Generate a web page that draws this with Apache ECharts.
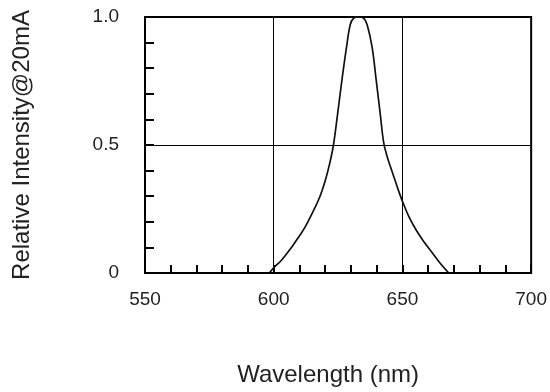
<!DOCTYPE html>
<html>
<head>
<meta charset="utf-8">
<script src="https://cdn.jsdelivr.net/npm/echarts@6/dist/echarts.min.js"></script>
<style>
  html, body { margin: 0; padding: 0; background: #fff; }
  #chart { width: 550px; height: 392px; }
</style>
</head>
<body>
<div id="chart"></div>
<script>
// wavelength (nm) and relative intensity
var wavelength = [598.3, 600, 603, 606.9, 610, 612.5, 615.5, 618, 620, 621.8, 623.2, 624.8, 626.5, 628.3, 629.7, 631, 633, 635, 636.3, 638.2, 639.8, 641.4, 642.7, 644.2, 646.2, 648.2, 650, 652.5, 655.5, 658.5, 661.5, 664.5, 668];
var intensity  = [0, 0.02, 0.05, 0.1, 0.145, 0.185, 0.245, 0.3, 0.36, 0.43, 0.5, 0.62, 0.754, 0.883, 0.97, 0.995, 1.0, 0.995, 0.97, 0.883, 0.754, 0.62, 0.51, 0.45, 0.39, 0.33, 0.28, 0.22, 0.165, 0.12, 0.08, 0.04, 0];

var xMin = 550, xMax = 700, xMajor = 50, xMinor = 10;
var yMin = 0, yMax = 1, yMajor = 0.5, yMinor = 0.1;

var points = [];
for (var i = 0; i < wavelength.length; i++) {
  points.push([wavelength[i], intensity[i]]);
}

var myChart = echarts.init(document.getElementById('chart'));
var txt = '#222';
var font = 'Liberation Sans, Arial, sans-serif';

var option = {
  animation: false,
  backgroundColor: '#fff',
  grid: {
    left: 145, right: 14, top: 17, bottom: 116,
    show: true, borderColor: '#000', borderWidth: 2
  },
  xAxis: [
    {
      type: 'value', min: xMin, max: xMax, interval: xMajor, position: 'bottom',
      axisLine: { show: true, lineStyle: { color: '#000', width: 2 } },
      axisTick: { show: false },
      axisLabel: { fontSize: 19, color: txt, fontFamily: font, margin: 17 },
      splitLine: { show: true, lineStyle: { color: '#000', width: 1 } },
      name: 'Wavelength (nm)',
      nameLocation: 'middle',
      nameGap: 90,
      nameTextStyle: { fontSize: 24, color: txt, fontFamily: font, padding: [0, 20, 0, 0] }
    },
    {
      type: 'value', min: xMin, max: xMax, interval: xMinor, position: 'bottom',
      axisLine: { show: false },
      axisTick: { show: true, inside: true, length: 8, lineStyle: { color: '#000', width: 2 } },
      axisLabel: { show: false },
      splitLine: { show: false }
    }
  ],
  yAxis: [
    {
      type: 'value', min: yMin, max: yMax, interval: yMajor, position: 'left',
      axisLine: { show: true, lineStyle: { color: '#000', width: 2 } },
      axisTick: { show: false },
      axisLabel: {
        fontSize: 19, color: txt, fontFamily: font, margin: 26,
        formatter: function (v) { return v === 0 ? '0' : v.toFixed(1); }
      },
      splitLine: { show: true, lineStyle: { color: '#000', width: 1 } },
      name: 'Relative Intensity@20mA',
      nameLocation: 'middle',
      nameGap: 111,
      nameTextStyle: { fontSize: 24, color: txt, fontFamily: font }
    },
    {
      type: 'value', min: yMin, max: yMax, interval: yMinor, position: 'left',
      axisLine: { show: false },
      axisTick: { show: true, inside: true, length: 9, lineStyle: { color: '#000', width: 2 } },
      axisLabel: { show: false },
      splitLine: { show: false }
    }
  ],
  series: [
    {
      type: 'line',
      xAxisIndex: 0,
      yAxisIndex: 0,
      data: points,
      smooth: 0.4,
      symbol: 'none',
      lineStyle: { color: '#111', width: 1.7 }
    }
  ]
};
myChart.setOption(option);
</script>
</body>
</html>
